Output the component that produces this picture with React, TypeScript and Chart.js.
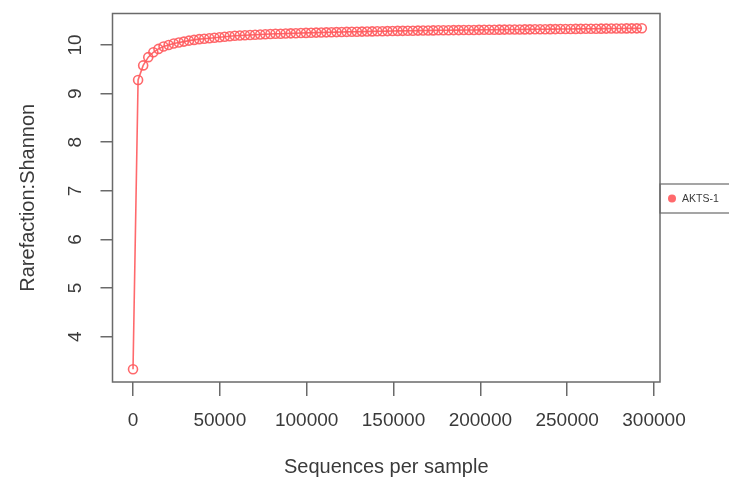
import { useEffect, useRef } from "react";
import { Chart, registerables } from "chart.js";

Chart.register(...registerables);

const sampleName = "AKTS-1";
const xTitle = "Sequences per sample";
const yTitle = "Rarefaction:Shannon";

const depths = [
  10, 2930, 5860, 8790, 11720, 14650, 17580, 20510, 23440, 26370,
  29300, 32230, 35160, 38090, 41020, 43950, 46880, 49810, 52740, 55670,
  58600, 61530, 64460, 67390, 70320, 73250, 76180, 79110, 82040, 84970,
  87900, 90830, 93760, 96690, 99620, 102550, 105480, 108410, 111340, 114270,
  117200, 120130, 123060, 125990, 128920, 131850, 134780, 137710, 140640, 143570,
  146500, 149430, 152360, 155290, 158220, 161150, 164080, 167010, 169940, 172870,
  175800, 178730, 181660, 184590, 187520, 190450, 193380, 196310, 199240, 202170,
  205100, 208030, 210960, 213890, 216820, 219750, 222680, 225610, 228540, 231470,
  234400, 237330, 240260, 243190, 246120, 249050, 251980, 254910, 257840, 260770,
  263700, 266630, 269560, 272490, 275420, 278350, 281280, 284210, 287140, 290070,
  293000,
];

const shannon = [
  3.33, 9.28, 9.58, 9.75, 9.85, 9.92, 9.97, 10.0, 10.03, 10.05,
  10.07, 10.09, 10.105, 10.12, 10.13, 10.14, 10.15, 10.16, 10.17, 10.18,
  10.19, 10.195, 10.2, 10.205, 10.21, 10.215, 10.22, 10.225, 10.23, 10.233,
  10.236, 10.24, 10.243, 10.246, 10.249, 10.252, 10.255, 10.258, 10.26, 10.263,
  10.265, 10.268, 10.27, 10.272, 10.274, 10.276, 10.278, 10.28, 10.282, 10.284,
  10.286, 10.288, 10.29, 10.291, 10.293, 10.294, 10.296, 10.297, 10.299, 10.3,
  10.302, 10.303, 10.304, 10.306, 10.307, 10.308, 10.309, 10.31, 10.312, 10.313,
  10.314, 10.315, 10.316, 10.317, 10.318, 10.319, 10.32, 10.321, 10.322, 10.323,
  10.324, 10.325, 10.326, 10.327, 10.328, 10.329, 10.33, 10.331, 10.332, 10.333,
  10.334, 10.335, 10.336, 10.337, 10.338, 10.339, 10.34, 10.341, 10.342, 10.343,
  10.344,
];

const xTicks = [0, 50000, 100000, 150000, 200000, 250000, 300000];
const yTicks = [4, 5, 6, 7, 8, 9, 10];

const W = 729;
const H = 482;
const RED = "rgba(255, 92, 96, 0.92)";
const AXIS = "#6a6a6a";
const TEXT = "#3a3a3a";
const FONT = "'Liberation Sans', Arial, sans-serif";

export default function App() {
  const ref = useRef<HTMLCanvasElement>(null);

  useEffect(() => {
    document.body.style.margin = "0";
    const canvas = ref.current;
    if (!canvas) return;

    const decor = {
      id: "rdecor",
      afterDraw(chart: any) {
        const ctx = chart.ctx as CanvasRenderingContext2D;
        const a = chart.chartArea;
        const xs = chart.scales.x;
        const ys = chart.scales.y;
        ctx.save();
        ctx.strokeStyle = AXIS;
        ctx.lineWidth = 1.5;
        ctx.strokeRect(a.left, a.top, a.right - a.left, a.bottom - a.top);

        ctx.fillStyle = TEXT;
        ctx.font = `19px ${FONT}`;
        ctx.textAlign = "center";
        ctx.textBaseline = "middle";
        xTicks.forEach((v) => ctx.fillText(String(v), xs.getPixelForValue(v), 421));
        yTicks.forEach((v) => {
          ctx.save();
          ctx.translate(76, ys.getPixelForValue(v));
          ctx.rotate(-Math.PI / 2);
          ctx.fillText(String(v), 0, 0);
          ctx.restore();
        });
        ctx.font = `20px ${FONT}`;
        ctx.fillText(xTitle, (a.left + a.right) / 2, 467);
        ctx.save();
        ctx.translate(28, (a.top + a.bottom) / 2);
        ctx.rotate(-Math.PI / 2);
        ctx.fillText(yTitle, 0, 0);
        ctx.restore();

        // legend
        ctx.strokeStyle = AXIS;
        ctx.lineWidth = 1.2;
        ctx.strokeRect(a.right, 184, 80, 29);
        ctx.fillStyle = RED;
        ctx.beginPath();
        ctx.arc(a.right + 12, 198.5, 4, 0, Math.PI * 2);
        ctx.fill();
        ctx.fillStyle = TEXT;
        ctx.font = `10.5px ${FONT}`;
        ctx.textAlign = "left";
        ctx.fillText(sampleName, a.right + 22, 199);
        ctx.restore();
      },
    };

    const chart = new Chart(canvas, {
      type: "scatter",
      data: {
        datasets: [
          {
            label: sampleName,
            data: depths.map((x, i) => ({ x, y: shannon[i] })),
            showLine: true,
            borderColor: RED,
            borderWidth: 1.6,
            pointRadius: 4.5,
            pointBorderWidth: 1.6,
            pointBorderColor: RED,
            pointBackgroundColor: "rgba(0,0,0,0)",
          },
        ],
      },
      options: {
        responsive: false,
        animation: false,
        layout: { padding: { top: 13.5, right: 69, left: 0, bottom: 0 } },
        plugins: { legend: { display: false }, tooltip: { enabled: false } },
        scales: {
          x: {
            type: "linear",
            min: -11804,
            max: 303455,
            afterBuildTicks: (s: any) => {
              s.ticks = xTicks.map((v) => ({ value: v }));
            },
            afterFit: (s: any) => {
              s.height = H - 382;
            },
            ticks: { display: false },
            grid: { drawOnChartArea: false, drawTicks: true, tickLength: 14, color: AXIS, lineWidth: 1.5 },
            border: { display: false },
          },
          y: {
            type: "linear",
            min: 3.068,
            max: 10.648,
            afterBuildTicks: (s: any) => {
              s.ticks = yTicks.map((v) => ({ value: v }));
            },
            afterFit: (s: any) => {
              s.width = 112.5;
            },
            ticks: { display: false },
            grid: { drawOnChartArea: false, drawTicks: true, tickLength: 12, color: AXIS, lineWidth: 1.5 },
            border: { display: false },
          },
        },
      },
      plugins: [decor],
    });

    return () => chart.destroy();
  }, []);

  return (
    <div style={{ width: W, height: H }}>
      <canvas ref={ref} width={W} height={H} style={{ display: "block" }} />
    </div>
  );
}
